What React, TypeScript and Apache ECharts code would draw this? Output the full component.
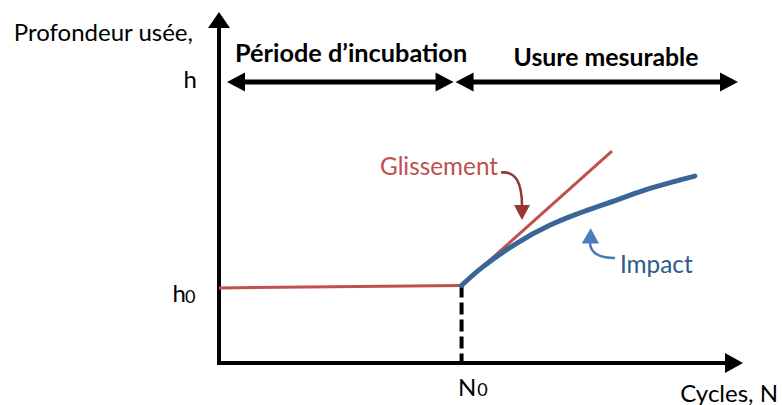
import React, { useEffect, useRef } from 'react';
import * as echarts from 'echarts';

// ---- data (abstract units: x and y both 0..100) ----
const N0 = 47.1;
const H0 = 22.6;
const incubationLine = [[0, 21.9], [N0, H0]];
const glissementLine = [[N0, H0], [76.3, 61.8]];
const impactCurve = [
  [N0, H0], [51.3, 28.1], [57.8, 34.9], [64.3, 40.2],
  [70.7, 44.1], [77.2, 47.5], [83.7, 50.9], [92.4, 54.5],
];
const thresholdLine = [[N0, H0], [N0, 0]];
const yTitle = ['Profondeur usée,', 'h'];
const xTitle = 'Cycles, N';
const periodLabels = ['Période d’incubation', 'Usure mesurable'];
const seriesLabels = ['Glissement', 'Impact'];
const xTickLabel = ['N', '0'];
const yTickLabel = ['h', '0'];

const PERIOD_LEVEL = 81.9;
const FONT = 'Lato, "Noto Sans", sans-serif';
const RED = '#C0504D';
const BLUE = '#3A6597';

export default function App() {
  const ref = useRef<HTMLDivElement>(null);
  useEffect(() => {
    document.body.style.margin = '0';
    const chart = echarts.init(ref.current as HTMLDivElement, null, { renderer: 'svg' });
    chart.setOption({
      animation: false,
      backgroundColor: '#ffffff',
      grid: { left: 219, top: 20, right: 48, bottom: 42 },
      xAxis: {
        type: 'value', min: 0, max: 100,
        axisLine: { show: true, symbol: ['none', 'triangle'], symbolSize: [20, 18], lineStyle: { color: '#000', width: 4, cap: 'square' } },
        axisTick: { show: false }, axisLabel: { show: false }, splitLine: { show: false },
      },
      yAxis: {
        type: 'value', min: 0, max: 100,
        axisLine: { show: true, symbol: ['none', 'triangle'], symbolSize: [22, 16], lineStyle: { color: '#000', width: 4, cap: 'square' } },
        axisTick: { show: false }, axisLabel: { show: false }, splitLine: { show: false },
      },
      series: [
        { type: 'line', data: thresholdLine, showSymbol: false, lineStyle: { color: '#000', width: 4, type: [12, 5] }, z: 1 },
        { type: 'line', data: incubationLine, showSymbol: false, lineStyle: { color: RED, width: 3 }, z: 2 },
        { type: 'line', data: glissementLine, showSymbol: false, lineStyle: { color: RED, width: 3 }, z: 2 },
        { type: 'line', data: impactCurve, showSymbol: false, smooth: 0.4, lineStyle: { color: BLUE, width: 5, cap: 'round' }, z: 3 },
      ],
    });

    const px = (x: number, y: number) => chart.convertToPixel({ gridIndex: 0 }, [x, y]) as number[];
    const [ax] = px(0, 0);
    const [nx] = px(N0, H0);
    const [, hy] = px(0, H0);
    const [xEnd, by] = px(100, 0);
    const [, py] = px(0, PERIOD_LEVEL);

    const L = 18, H = 9.5;
    const headL = (t: number, y: number) => ({ type: 'polygon', shape: { points: [[t, y], [t + L, y - H], [t + L, y + H]] }, style: { fill: '#000' } });
    const headR = (t: number, y: number) => ({ type: 'polygon', shape: { points: [[t, y], [t - L, y - H], [t - L, y + H]] }, style: { fill: '#000' } });
    const seg = (x1: number, x2: number, y: number) => ({ type: 'line', shape: { x1, y1: y, x2, y2: y }, style: { stroke: '#000', lineWidth: 5 } });

    const a1 = ax + 8, j = nx - 8, a2 = nx - 6, a3 = xEnd + 4;
    const txt = (text: string, x: number, y: number, size: number, fill: string, align: string, bold = false, lineHeight?: number) => ({
      type: 'text', x, y,
      style: { text, fill, align, verticalAlign: 'middle', fontSize: size, fontFamily: FONT, fontWeight: bold ? 'bold' : 'normal', lineHeight },
    });

    chart.setOption({
      graphic: [
        seg(a1 + 10, j - 10, py), headL(a1, py), headR(j, py),
        seg(a2 + 10, a3 - 10, py), headL(a2, py), headR(a3, py),
        txt(periodLabels[0], ax + 16, py - 30.5, 25.3, '#000', 'left', true),
        txt(periodLabels[1], nx + 52, py - 25.5, 24.8, '#000', 'left', true),
        txt(yTitle[0], 193, 31, 24, '#000', 'right'),
        txt(yTitle[1], 197, 78.7, 24, '#000', 'right'),
        txt(xTitle, 778, 392, 24, '#000', 'right', false, 18),
        txt(yTickLabel[0], ax - 46.5, hy + 7.2, 24, '#000', 'left'),
        txt(yTickLabel[1], ax - 34, hy + 10.5, 18, '#000', 'left'),
        txt(xTickLabel[0], nx - 3.6, by + 23, 24, '#000', 'left'),
        txt(xTickLabel[1], nx + 15.6, by + 25.5, 18, '#000', 'left'),
        txt(seriesLabels[0], 380, 165.7, 24.3, RED, 'left'),
        txt(seriesLabels[1], 620, 263.7, 24.3, '#2E5A8C', 'left'),
        {
          type: 'bezierCurve',
          shape: { x1: 501, y1: 172.5, cpx1: 516, cpy1: 171, cpx2: 522, cpy2: 183, x2: 522, y2: 206 },
          style: { stroke: '#953735', lineWidth: 2.5, fill: null },
        },
        { type: 'polygon', shape: { points: [[514, 205], [530, 205], [522, 220]] }, style: { fill: '#953735' } },
        {
          type: 'bezierCurve',
          shape: { x1: 590, y1: 242, cpx1: 590, cpy1: 254, cpx2: 600, cpy2: 258, x2: 615, y2: 258 },
          style: { stroke: '#4A7EBB', lineWidth: 2.5, fill: null },
        },
        { type: 'polygon', shape: { points: [[590.7, 228.3], [581.7, 243.5], [599, 243.5]] }, style: { fill: '#4A7EBB' } },
      ],
    });
    return () => chart.dispose();
  }, []);
  return <div ref={ref} style={{ position: 'fixed', left: 0, top: 0, width: 782, height: 405 }} />;
}
